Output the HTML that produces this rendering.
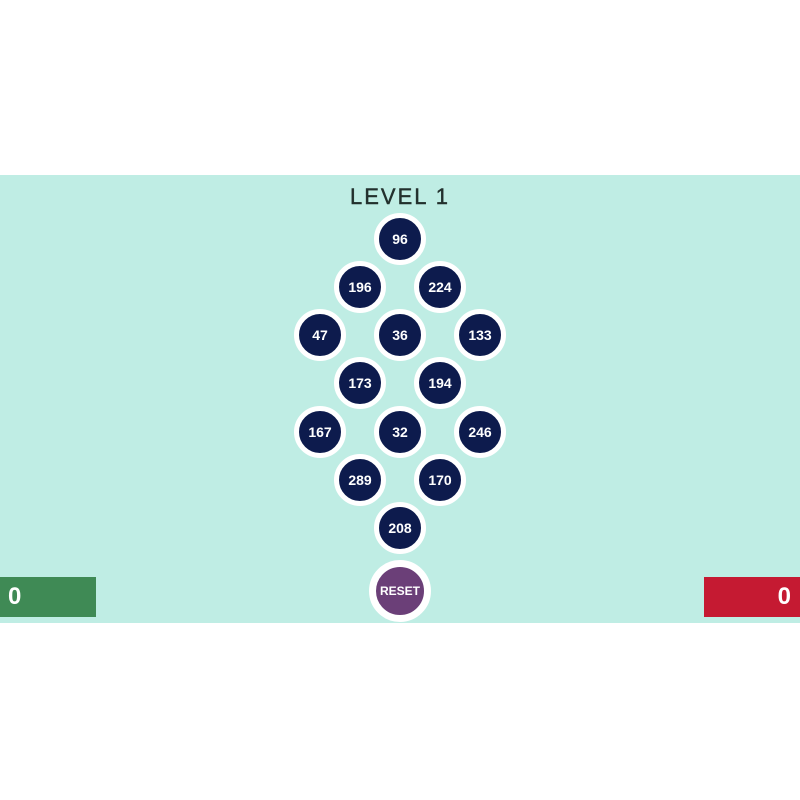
<!DOCTYPE html>
<html><head><meta charset="utf-8"><style>
html,body{margin:0;padding:0;width:800px;height:800px;background:#fff;overflow:hidden;font-family:"Liberation Sans","DejaVu Sans",sans-serif}
.band{position:absolute;left:0;top:175px;width:800px;height:448px;background:#bfede4}
.title{position:absolute;left:300px;width:200px;top:184px;text-align:center;font-size:22px;letter-spacing:2px;color:#22302d;-webkit-text-stroke:0.4px #22302d}
.c{position:absolute;width:42px;height:42px;border-radius:50%;background:#0d1b4d;border:5px solid #fff;color:#fff;font-size:14px;font-weight:bold;display:flex;align-items:center;justify-content:center;transform:translate(-26px,-26px)}
.reset{position:absolute;left:400px;top:591px;width:48px;height:48px;border-radius:50%;background:#6b3f78;border:7px solid #fff;color:#fff;font-size:12px;font-weight:bold;display:flex;align-items:center;justify-content:center;transform:translate(-31px,-31px)}
.g{position:absolute;left:0;top:577px;width:96px;height:40px;background:#3f8a55;color:#fff;font-size:24px;font-weight:bold;line-height:40px;padding-left:8px;box-sizing:border-box}
.r{position:absolute;left:704px;top:577px;width:96px;height:40px;background:#c51a32;color:#fff;font-size:24px;font-weight:bold;line-height:40px;text-align:right;padding-right:9px;box-sizing:border-box}
</style></head><body>
<div class="band"></div>
<div class="title">LEVEL 1</div>
<div class="c" style="left:400px;top:239px">96</div>
<div class="c" style="left:360px;top:287px">196</div>
<div class="c" style="left:440px;top:287px">224</div>
<div class="c" style="left:320px;top:335px">47</div>
<div class="c" style="left:400px;top:335px">36</div>
<div class="c" style="left:480px;top:335px">133</div>
<div class="c" style="left:360px;top:383px">173</div>
<div class="c" style="left:440px;top:383px">194</div>
<div class="c" style="left:320px;top:432px">167</div>
<div class="c" style="left:400px;top:432px">32</div>
<div class="c" style="left:480px;top:432px">246</div>
<div class="c" style="left:360px;top:480px">289</div>
<div class="c" style="left:440px;top:480px">170</div>
<div class="c" style="left:400px;top:528px">208</div>
<div class="reset">RESET</div>
<div class="g">0</div>
<div class="r">0</div>
</body></html>
